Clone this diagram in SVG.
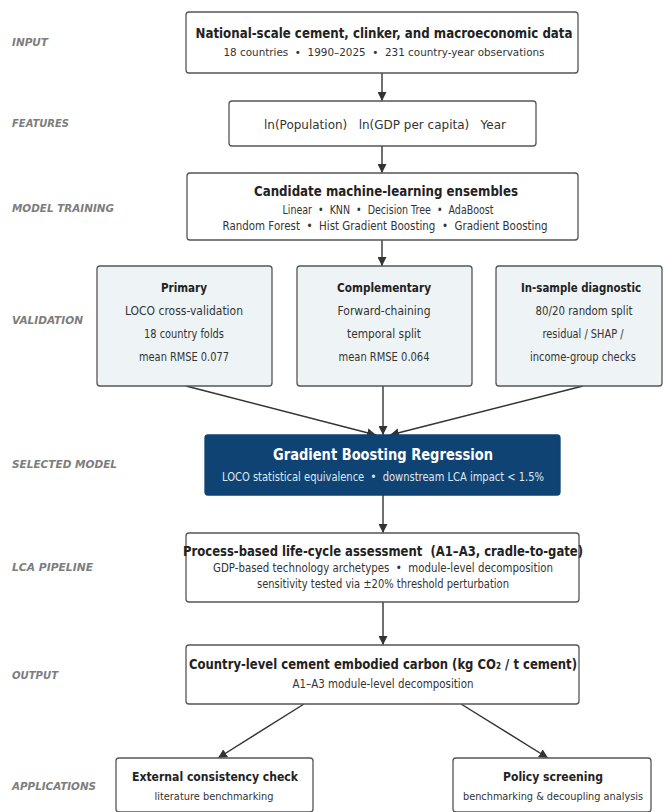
<svg xmlns="http://www.w3.org/2000/svg" width="663" height="812" viewBox="0 0 663 812" xml:space="preserve">
<defs>
<style>
text{white-space:pre}
.box{fill:#ffffff;stroke:#555;stroke-width:1.3}
.vbox{fill:#eef3f5;stroke:#555;stroke-width:1.3}
.sel{fill:#0f4374;stroke:#0f4374;stroke-width:1.3}
.lbl{font-family:"DejaVu Sans",sans-serif;font-weight:bold;font-style:italic;font-size:11px;fill:#7d7d7d}
.t{font-family:"DejaVu Sans",sans-serif;font-weight:bold;fill:#222;text-anchor:middle}
.s{font-family:"DejaVu Sans",sans-serif;fill:#333;text-anchor:middle}
.w{fill:#ffffff}
.ws{fill:#dfe8f1}
.con line{stroke:#333;stroke-width:1.4;marker-end:url(#ah)}
</style>
<marker id="ah" viewBox="0 0 10 10" refX="10" refY="5" markerWidth="9" markerHeight="9" markerUnits="userSpaceOnUse" orient="auto">
<path d="M0,0 L10,5 L0,10 z" fill="#333"/>
</marker>
</defs>
<rect width="663" height="812" fill="#ffffff"/>
<g id="labels">
<text class="lbl" x="12" y="46" textLength="36" lengthAdjust="spacingAndGlyphs">INPUT</text>
<text class="lbl" x="12" y="127" textLength="57" lengthAdjust="spacingAndGlyphs">FEATURES</text>
<text class="lbl" x="12" y="212" textLength="102" lengthAdjust="spacingAndGlyphs">MODEL TRAINING</text>
<text class="lbl" x="12" y="324" textLength="71" lengthAdjust="spacingAndGlyphs">VALIDATION</text>
<text class="lbl" x="12" y="468" textLength="105" lengthAdjust="spacingAndGlyphs">SELECTED MODEL</text>
<text class="lbl" x="12" y="571" textLength="81" lengthAdjust="spacingAndGlyphs">LCA PIPELINE</text>
<text class="lbl" x="12" y="679" textLength="46" lengthAdjust="spacingAndGlyphs">OUTPUT</text>
<text class="lbl" x="12" y="790" textLength="84" lengthAdjust="spacingAndGlyphs">APPLICATIONS</text>
</g>
<g class="con" id="connectors">
<line x1="382" y1="73" x2="382" y2="101"/>
<line x1="382" y1="146" x2="382" y2="173"/>
<line x1="382" y1="240" x2="382" y2="266"/>
<line x1="186" y1="386" x2="376" y2="435"/>
<line x1="383" y1="386" x2="383" y2="435"/>
<line x1="583" y1="386" x2="390" y2="435"/>
<line x1="383" y1="495" x2="383" y2="533"/>
<line x1="383" y1="602" x2="383" y2="645"/>
<line x1="304" y1="704" x2="218" y2="758"/>
<line x1="461" y1="704" x2="548" y2="758"/>
</g>
<g id="input">
<rect class="box" x="186" y="12" width="392" height="61" rx="3"/>
<text class="t" x="384" y="38" font-size="14" textLength="377" lengthAdjust="spacingAndGlyphs">National-scale cement, clinker, and macroeconomic data</text>
<text class="s" x="384" y="56" font-size="11" textLength="321" lengthAdjust="spacingAndGlyphs">18 countries  •  1990–2025  •  231 country-year observations</text>
</g>
<g id="features">
<rect class="box" x="229" y="101" width="307" height="45" rx="3"/>
<text class="s" x="385" y="129" font-size="13" textLength="242" lengthAdjust="spacingAndGlyphs">ln(Population)   ln(GDP per capita)   Year</text>
</g>
<g id="training">
<rect class="box" x="187" y="173" width="391" height="67" rx="3"/>
<text class="t" x="386" y="196" font-size="14" textLength="264" lengthAdjust="spacingAndGlyphs">Candidate machine-learning ensembles</text>
<text class="s" x="388" y="214" font-size="11.5" textLength="211" lengthAdjust="spacingAndGlyphs">Linear  •  KNN  •  Decision Tree  •  AdaBoost</text>
<text class="s" x="385" y="230" font-size="11.5" textLength="325" lengthAdjust="spacingAndGlyphs">Random Forest  •  Hist Gradient Boosting  •  Gradient Boosting</text>
</g>
<g id="primary">
<rect class="vbox" x="97" y="266" width="175" height="120" rx="3"/>
<text class="t" x="184" y="292" font-size="12.5" textLength="46" lengthAdjust="spacingAndGlyphs">Primary</text>
<text class="s" x="184" y="315" font-size="12" textLength="118" lengthAdjust="spacingAndGlyphs">LOCO cross-validation</text>
<text class="s" x="184" y="338" font-size="12" textLength="80" lengthAdjust="spacingAndGlyphs">18 country folds</text>
<text class="s" x="184" y="361" font-size="12" textLength="90" lengthAdjust="spacingAndGlyphs">mean RMSE 0.077</text>
</g>
<g id="complementary">
<rect class="vbox" x="297" y="266" width="175" height="120" rx="3"/>
<text class="t" x="384" y="292" font-size="12.5" textLength="94" lengthAdjust="spacingAndGlyphs">Complementary</text>
<text class="s" x="384" y="315" font-size="12" textLength="93" lengthAdjust="spacingAndGlyphs">Forward-chaining</text>
<text class="s" x="384" y="338" font-size="12" textLength="74" lengthAdjust="spacingAndGlyphs">temporal split</text>
<text class="s" x="384" y="361" font-size="12" textLength="91" lengthAdjust="spacingAndGlyphs">mean RMSE 0.064</text>
</g>
<g id="insample">
<rect class="vbox" x="496" y="266" width="166" height="120" rx="3"/>
<text class="t" x="581" y="292" font-size="12" textLength="120" lengthAdjust="spacingAndGlyphs">In-sample diagnostic</text>
<text class="s" x="584" y="315" font-size="12" textLength="97" lengthAdjust="spacingAndGlyphs">80/20 random split</text>
<text class="s" x="583" y="338" font-size="12" textLength="81" lengthAdjust="spacingAndGlyphs">residual / SHAP /</text>
<text class="s" x="583" y="361" font-size="12" textLength="106" lengthAdjust="spacingAndGlyphs">income-group checks</text>
</g>
<g id="selected">
<rect class="sel" x="205" y="435" width="355" height="60" rx="3"/>
<text class="t w" x="383" y="460" font-size="15" textLength="220" lengthAdjust="spacingAndGlyphs">Gradient Boosting Regression</text>
<text class="s ws" x="383" y="481" font-size="11.5" textLength="322" lengthAdjust="spacingAndGlyphs">LOCO statistical equivalence  •  downstream LCA impact &lt; 1.5%</text>
</g>
<g id="lca">
<rect class="box" x="186" y="533" width="393" height="69" rx="3"/>
<text class="t" x="383" y="556" font-size="14" textLength="400" lengthAdjust="spacingAndGlyphs">Process-based life-cycle assessment  (A1–A3, cradle-to-gate)</text>
<text class="s" x="383" y="572" font-size="11.5" textLength="340" lengthAdjust="spacingAndGlyphs">GDP-based technology archetypes  •  module-level decomposition</text>
<text class="s" x="383" y="588" font-size="11.5" textLength="252" lengthAdjust="spacingAndGlyphs">sensitivity tested via ±20% threshold perturbation</text>
</g>
<g id="output">
<rect class="box" x="186" y="645" width="393" height="59" rx="3"/>
<text class="t" x="383" y="669" font-size="14" textLength="388" lengthAdjust="spacingAndGlyphs">Country-level cement embodied carbon (kg CO₂ / t cement)</text>
<text class="s" x="383" y="688" font-size="11.5" textLength="181" lengthAdjust="spacingAndGlyphs">A1–A3 module-level decomposition</text>
</g>
<g id="external">
<rect class="box" x="116" y="758" width="197" height="54" rx="3"/>
<text class="t" x="215" y="781" font-size="12.5" textLength="166" lengthAdjust="spacingAndGlyphs">External consistency check</text>
<text class="s" x="214" y="800" font-size="11" textLength="119" lengthAdjust="spacingAndGlyphs">literature benchmarking</text>
</g>
<g id="policy">
<rect class="box" x="453" y="758" width="198" height="54" rx="3"/>
<text class="t" x="553" y="781" font-size="12.5" textLength="100" lengthAdjust="spacingAndGlyphs">Policy screening</text>
<text class="s" x="553" y="800" font-size="10.5" textLength="180" lengthAdjust="spacingAndGlyphs">benchmarking &amp; decoupling analysis</text>
</g>
</svg>
